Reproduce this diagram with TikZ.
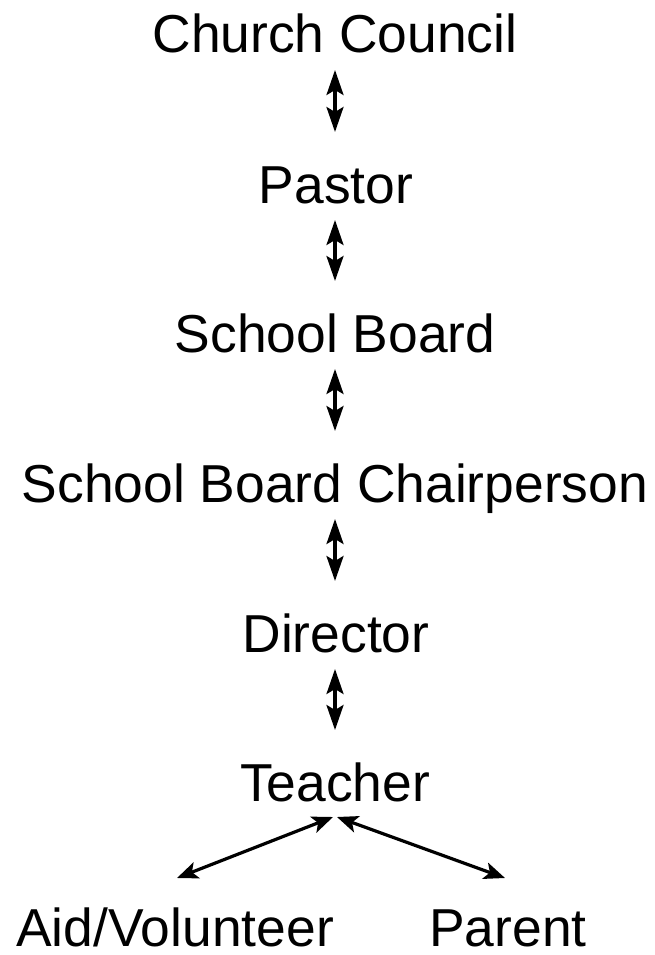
\documentclass[tikz,border=0pt]{standalone}
\usepackage{fontspec}
\setmainfont{Liberation Sans}
\usetikzlibrary{arrows.meta}
\begin{document}
\begin{tikzpicture}[x=1pt,y=1pt,
  lbl/.style={anchor=base,inner sep=0pt,font=\fontsize{53.4}{60}\selectfont},
  link/.style={line width=3.2pt,{Stealth[length=25pt,width=17pt,inset=5pt]}-{Stealth[length=25pt,width=17pt,inset=5pt]}},
  slink/.style={line width=3.2pt,{Stealth[length=21pt,width=17pt,inset=5pt]}-{Stealth[length=21pt,width=17pt,inset=5pt]}}]
\useasboundingbox (0,0) rectangle (654,-955);
\node[lbl] (cc) at (335,-53) {Church Council};
\node[lbl] (pa) at (336,-203) {Pastor};
\node[lbl] (sb) at (335,-352) {School Board};
\node[lbl] (ch) at (335,-502) {School Board Chairperson};
\node[lbl] (di) at (336,-652) {Director};
\node[lbl] (te) at (335,-801) {Teacher};
\node[lbl] (ai) at (175,-946) {Aid/Volunteer};
\node[lbl] (pr) at (508,-946) {Parent};
\draw[link] ([yshift=-17pt]cc.base -| 335,0) -- ([yshift=71pt]pa.base -| 335,0);
\draw[link] ([yshift=-17pt]pa.base -| 335,0) -- ([yshift=71pt]sb.base -| 335,0);
\draw[link] ([yshift=-17pt]sb.base -| 335,0) -- ([yshift=71pt]ch.base -| 335,0);
\draw[link] ([yshift=-17pt]ch.base -| 335,0) -- ([yshift=71pt]di.base -| 335,0);
\draw[link] ([yshift=-17pt]di.base -| 335,0) -- ([yshift=71pt]te.base -| 335,0);
\coordinate (tl) at ([xshift=-2pt,yshift=-16pt]te.base);
\coordinate (tr) at ([xshift=2pt,yshift=-16pt]te.base);
\draw[slink] (tl) -- ([xshift=2pt,yshift=68pt]ai.base);
\draw[slink] (tr) -- ([xshift=-3pt,yshift=68pt]pr.base);
\end{tikzpicture}
\end{document}
